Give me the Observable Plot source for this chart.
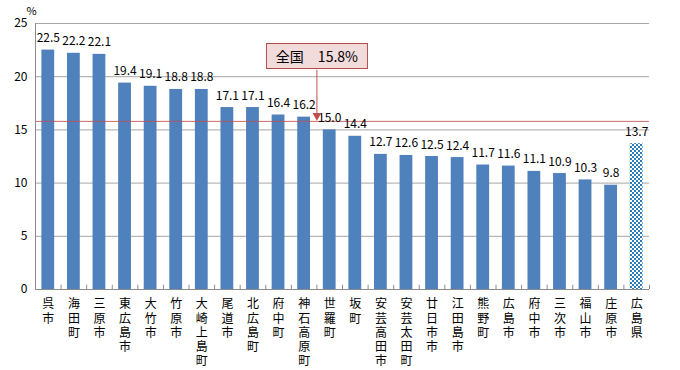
<!DOCTYPE html>
<html>
<head>
<meta charset="utf-8">
<script src="https://cdn.jsdelivr.net/npm/d3@7"></script>
<script src="https://cdn.jsdelivr.net/npm/@observablehq/plot@0.6"></script>
<style>
  html, body { margin: 0; padding: 0; background: #fff; }
  #chart { width: 680px; height: 370px; }
</style>
</head>
<body>
<div id="chart"></div>
<script>
const areas = ["呉市","海田町","三原市","東広島市","大竹市","竹原市","大崎上島町","尾道市","北広島町","府中町","神石高原町","世羅町","坂町","安芸高田市","安芸太田町","廿日市市","江田島市","熊野町","広島市","府中市","三次市","福山市","庄原市","広島県"];
const rates = [22.5,22.2,22.1,19.4,19.1,18.8,18.8,17.1,17.1,16.4,16.2,15.0,14.4,12.7,12.6,12.5,12.4,11.7,11.6,11.1,10.9,10.3,9.8,13.7];
const prefecture = "広島県";
const nationalRate = 15.8;
const nationalLabel = "全国　15.8%";
const nationalAnchorArea = "神石高原町";
const yTicks = [0, 5, 10, 15, 20, 25];

const data = areas.map((a, i) => ({area: a, rate: rates[i]}));

const W = 680, H = 370, ML = 35, MR = 31, MT = 23, MB = 81;
const step = (W - ML - MR) / areas.length;
const font = "'Noto Sans CJK JP', 'Noto Sans', sans-serif";

const chart = Plot.plot({
  width: W, height: H,
  marginLeft: ML, marginRight: MR, marginTop: MT, marginBottom: MB,
  style: {fontFamily: font, fontSize: "12px", color: "#000", background: "#fff"},
  x: {domain: areas, paddingInner: 0.5, paddingOuter: 0.25, round: false, label: null},
  y: {domain: [0, 25], ticks: yTicks, label: null},
  marks: [
    Plot.gridY(yTicks, {stroke: "#a6a6a6", strokeOpacity: 1}),
    Plot.axisY(yTicks, {tickSize: 0, tickPadding: 8, fontSize: 12, label: null}),
    Plot.axisX({tickSize: 0, tickPadding: 9, fontSize: 12, lineHeight: 1.17,
      tickFormat: d => d.split("").join("\n"), label: null}),
    Plot.barY(data, {x: "area", y: "rate",
      fill: d => d.area === prefecture ? "url(#checker)" : "#4f81bd"}),
    Plot.ruleY([0], {stroke: "#8c8c8c"}),
    Plot.ruleX(areas, {x: d => d, y1: 0, y2: 0.4, dx: -step / 2, stroke: "#8c8c8c"}),
    Plot.ruleX([areas[areas.length - 1]], {x: d => d, y1: 0, y2: 0.4, dx: step / 2, stroke: "#8c8c8c"}),
    Plot.ruleY([nationalRate], {stroke: "#c0504d", strokeOpacity: 0.85}),
    Plot.text(data, {x: "area", y: "rate", text: d => d.rate.toFixed(1),
      lineAnchor: "bottom", dy: -8, fontSize: 12, fill: "#000"}),
    Plot.ruleX([nationalAnchorArea], {x: d => d, y1: 20.6, y2: nationalRate + 0.5,
      dx: step / 2, stroke: "#c0504d"}),
    Plot.dot([nationalAnchorArea], {x: d => d, y: nationalRate + 0.55, dx: step / 2,
      symbol: "triangle", rotate: 180, r: 3.3, fill: "#c0504d", stroke: "none"}),
    Plot.text([nationalLabel], {x: () => nationalAnchorArea, y: () => 21.85, text: d => d,
      dx: step / 2, fontSize: 14, fill: "#000", className: "natlabel"}),
    Plot.text(["%"], {frameAnchor: "top-left", dx: -9, dy: -16, fontSize: 11, fill: "#000"})
  ]
});

document.getElementById("chart").appendChild(chart);

const svg = d3.select(chart);
const yScale = chart.scale("y");

// left axis line
svg.append("line")
  .attr("x1", ML + 0.5).attr("x2", ML + 0.5)
  .attr("y1", yScale.apply(0)).attr("y2", yScale.apply(25))
  .attr("stroke", "#8c8c8c");

// checker pattern for the prefecture bar
const defs = svg.insert("defs", ":first-child");
const pat = defs.append("pattern").attr("id", "checker")
  .attr("patternUnits", "userSpaceOnUse").attr("width", 4).attr("height", 4);
pat.append("rect").attr("width", 4).attr("height", 4).attr("fill", "#ffffff");
pat.append("rect").attr("width", 2).attr("height", 2).attr("fill", "#2a7db8");
pat.append("rect").attr("x", 2).attr("y", 2).attr("width", 2).attr("height", 2).attr("fill", "#2a7db8");

// box behind the national label
const lab = svg.select("g.natlabel");
const t = lab.select("text").node();
const bb = t.getBBox();
const ctm = t.getAttribute("transform");
const boxW = 101, boxH = 25;
const cx = bb.x + bb.width / 2, cy = bb.y + bb.height / 2;
lab.insert("rect", ":first-child")
  .attr("transform", ctm)
  .attr("x", cx - boxW / 2).attr("y", cy - boxH / 2 + 0.5)
  .attr("width", boxW).attr("height", boxH)
  .attr("fill", "#f2dcdb").attr("stroke", "#b0504e").attr("stroke-width", 1);
</script>
</body>
</html>
